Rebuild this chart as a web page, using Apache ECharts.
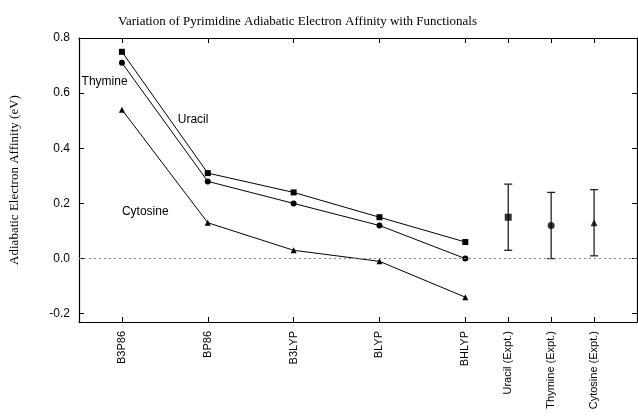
<!DOCTYPE html>
<html>
<head>
<meta charset="utf-8">
<script src="https://cdn.jsdelivr.net/npm/echarts@6/dist/echarts.min.js"></script>
<style>
  html, body { margin: 0; padding: 0; background: #fff; }
  #chart { width: 638px; height: 418px; }
</style>
</head>
<body>
<div id="chart"></div>
<script>
  // functionals on the x axis
  var methods = ['B3P86', 'BP86', 'B3LYP', 'BLYP', 'BHLYP'];
  // computed adiabatic EA (eV)
  var uracil = [0.75, 0.31, 0.24, 0.15, 0.06];
  var thymine = [0.71, 0.28, 0.20, 0.12, 0.00];
  var cytosine = [0.54, 0.13, 0.03, -0.01, -0.14];
  // experimental values with error
  var exptNames = ['Uracil (Expt.)', 'Thymine (Expt.)', 'Cytosine (Expt.)'];
  var exptValues = [0.15, 0.12, 0.13];
  var exptErrors = [0.12, 0.12, 0.12];
  var exptSymbols = ['rect', 'circle', 'triangle'];
  var yTicks = [-0.2, 0.0, 0.2, 0.4, 0.6, 0.8];

  var sans = 'Liberation Sans';
  var serif = 'Liberation Serif';

  /* x positions: functionals at 0..4, expt columns at half steps after */
  var xPos = [];
  var xNames = {};
  for (var i = 0; i < methods.length; i++) {
    xPos.push(i);
    xNames[i] = methods[i];
  }
  var exptX = [];
  for (var j = 0; j < exptNames.length; j++) {
    var px = methods.length - 0.5 + j * 0.5;
    exptX.push(px);
    xPos.push(px);
    xNames[px] = exptNames[j];
  }

  function pairs(arr) {
    var out = [];
    for (var i = 0; i < arr.length; i++) out.push([i, arr[i]]);
    return out;
  }

  var exptPoints = [];
  var exptBars = [];
  for (var k = 0; k < exptNames.length; k++) {
    exptPoints.push({ value: [exptX[k], exptValues[k]], symbol: exptSymbols[k] });
    exptBars.push([exptX[k], exptValues[k] - exptErrors[k], exptValues[k] + exptErrors[k]]);
  }

  var lineCommon = {
    type: 'line',
    symbolSize: 6,
    lineStyle: { color: '#000', width: 1 },
    itemStyle: { color: '#000' },
    animation: false,
    z: 3
  };

  var axisLineStyle = { show: true, onZero: false, lineStyle: { color: '#000', width: 1.2 } };

  var myChart = echarts.init(document.getElementById('chart'));
  var option = {
    animation: false,
    title: {
      text: 'Variation of Pyrimidine Adiabatic Electron Affinity with Functionals',
      left: 113,
      top: 10,
      textStyle: { fontFamily: serif, fontSize: 13, fontWeight: 'normal', color: '#000' }
    },
    grid: { left: 78, right: 1, top: 38, bottom: 96 },
    xAxis: [{
      type: 'value',
      min: -0.5,
      max: 6,
      position: 'bottom',
      splitLine: { show: false },
      axisLine: axisLineStyle,
      axisTick: { inside: true, length: 5, customValues: xPos, lineStyle: { color: '#000' } },
      axisLabel: {
        customValues: xPos,
        rotate: 90,
        margin: 9,
        fontFamily: sans,
        fontSize: 11,
        color: '#000',
        formatter: function (v) { return xNames[v] || ''; }
      }
    }, {
      type: 'value',
      min: -0.5,
      max: 6,
      position: 'top',
      splitLine: { show: false },
      axisLine: axisLineStyle,
      axisTick: { inside: true, length: 5, customValues: xPos, lineStyle: { color: '#000' } },
      axisLabel: { show: false }
    }],
    yAxis: [{
      type: 'value',
      min: -0.23,
      max: 0.8,
      position: 'left',
      splitLine: { show: false },
      axisLine: axisLineStyle,
      axisTick: { inside: true, length: 5, customValues: yTicks, lineStyle: { color: '#000' } },
      axisLabel: {
        customValues: yTicks,
        margin: 9,
        fontFamily: sans,
        fontSize: 12,
        color: '#000',
        formatter: function (v) { return v.toFixed(1); }
      },
      name: 'Adiabatic Electron Affinity (eV)',
      nameLocation: 'middle',
      nameGap: 58,
      nameTextStyle: { fontFamily: serif, fontSize: 13, color: '#000' }
    }, {
      type: 'value',
      min: -0.23,
      max: 0.8,
      position: 'right',
      splitLine: { show: false },
      axisLine: axisLineStyle,
      axisTick: { inside: true, length: 5, customValues: yTicks, lineStyle: { color: '#000' } },
      axisLabel: { show: false }
    }],
    series: [
      Object.assign({}, lineCommon, {
        name: 'Uracil', symbol: 'rect', data: pairs(uracil),
        markLine: {
          silent: true,
          symbol: 'none',
          label: { show: false },
          lineStyle: { color: '#888', type: [2, 3], width: 1 },
          data: [{ yAxis: 0 }]
        }
      }),
      Object.assign({}, lineCommon, { name: 'Thymine', symbol: 'circle', data: pairs(thymine) }),
      Object.assign({}, lineCommon, { name: 'Cytosine', symbol: 'triangle', symbolSize: 6, data: pairs(cytosine) }),
      {
        type: 'custom',
        name: 'Expt. error',
        data: exptBars,
        z: 2,
        renderItem: function (params, api) {
          var x = api.value(0);
          var lo = api.coord([x, api.value(1)]);
          var hi = api.coord([x, api.value(2)]);
          var cap = 4;
          var st = { stroke: '#222', lineWidth: 1.3 };
          return {
            type: 'group',
            children: [
              { type: 'line', shape: { x1: lo[0], y1: lo[1], x2: hi[0], y2: hi[1] }, style: st },
              { type: 'line', shape: { x1: hi[0] - cap, y1: hi[1], x2: hi[0] + cap, y2: hi[1] }, style: st },
              { type: 'line', shape: { x1: lo[0] - cap, y1: lo[1], x2: lo[0] + cap, y2: lo[1] }, style: st }
            ]
          };
        }
      },
      {
        type: 'scatter',
        name: 'Expt.',
        data: exptPoints,
        symbolSize: 7,
        itemStyle: { color: '#000' },
        z: 4
      }
    ]
  };
  myChart.setOption(option);

  /*曲线标注*/
  var notes = [
    { text: 'Thymine', at: [-0.47, 0.64] },
    { text: 'Uracil', at: [0.65, 0.505] },
    { text: 'Cytosine', at: [0.0, 0.17] }
  ];
  var graphics = [];
  for (var n = 0; n < notes.length; n++) {
    var p = myChart.convertToPixel({ xAxisIndex: 0, yAxisIndex: 0 }, notes[n].at);
    graphics.push({
      type: 'text',
      x: p[0],
      y: p[1],
      style: {
        text: notes[n].text,
        fontFamily: sans,
        fontSize: 12,
        fill: '#000',
        textVerticalAlign: 'middle'
      }
    });
  }
  myChart.setOption({ graphic: graphics });
</script>
</body>
</html>
